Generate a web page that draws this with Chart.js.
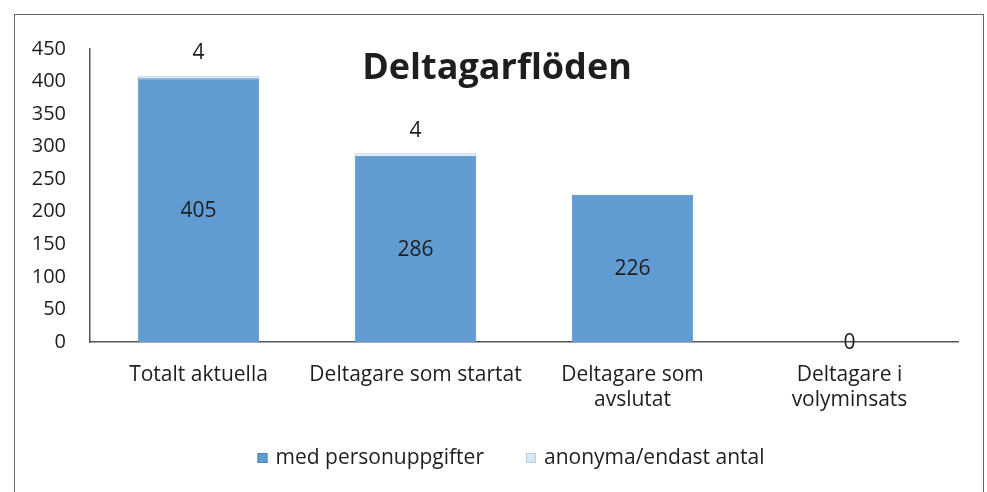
<!DOCTYPE html>
<html>
<head>
<meta charset="utf-8">
<script src="https://cdn.jsdelivr.net/npm/chart.js@4/dist/chart.umd.min.js"></script>
<style>
  html, body { margin: 0; padding: 0; background: #fff; }
  #wrap { position: relative; width: 987px; height: 492px; }
  #frame { position: absolute; left: 14px; top: 14px; width: 970px; height: 490px;
           border: 1px solid #666; box-sizing: border-box; pointer-events: none; }
  canvas { position: absolute; left: 0; top: 0; }
</style>
</head>
<body>
<div id="wrap">
  <canvas id="chart" width="987" height="492"></canvas>
  <div id="frame"></div>
</div>
<script>
// data
var categories = ['Totalt aktuella', 'Deltagare som startat', ['Deltagare som', 'avslutat'], ['Deltagare i', 'volyminsats']];
var medPersonuppgifter = [405, 286, 226, 0];
var anonymaEndastAntal = [4, 4, 0, 0];
var yTicks = [0, 50, 100, 150, 200, 250, 300, 350, 400, 450];
var chartTitle = 'Deltagarflöden';

var FONT = '"Open Sans", Lato, sans-serif';
var TEXT = '#1e1e1e';

// title sits inside the plot area, like the Excel original
var titlePlugin = {
    id: 'insideTitle',
    afterDraw (chart) {
        var ctx = chart.ctx;
        ctx.save();
        ctx.font = 'bold 36px ' + FONT;
        ctx.fillStyle = TEXT;
        ctx.textAlign = 'center';
        ctx.textBaseline = 'middle';
        ctx.fillText(chartTitle, 497, 69);
        ctx.restore();
    }
};

// value labels: first series in the middle of the bar, second above the stack
var labelPlugin = {
    id: 'barLabels',
    afterDatasetsDraw (chart) {
        var ctx = chart.ctx;
        ctx.save();
        ctx.font = '21px ' + FONT;
        ctx.fillStyle = TEXT;
        ctx.textAlign = 'center';
        var med = chart.getDatasetMeta(0);
        var ano = chart.getDatasetMeta(1);
        med.data.forEach(function (bar, i) {
            ctx.textBaseline = 'middle';
            ctx.fillText(String(medPersonuppgifter[i]), bar.x, (bar.y + bar.base) / 2 + 1);
            if (anonymaEndastAntal[i] > 0) {
                var top = ano.data[i].y;
                ctx.textBaseline = 'bottom';
                ctx.fillText(String(anonymaEndastAntal[i]), bar.x, top - 12);
            }
        });
        ctx.restore();
    }
};

// legend drawn by hand so the items can sit wide apart like in Excel
var legendPlugin = {
    id: 'wideLegend',
    afterDraw (chart) {
        var ctx = chart.ctx;
        var sets = chart.data.datasets;
        var box = 10, gap = 8, spacing = 42, cy = 458;
        ctx.save();
        ctx.font = '21px ' + FONT;
        var widths = sets.map(function (ds) { return box + gap + ctx.measureText(ds.label).width; });
        var total = widths.reduce(function (a, b) { return a + b; }, 0) + spacing * (sets.length - 1);
        var x = 511 - total / 2;
        sets.forEach(function (ds, i) {
            ctx.fillStyle = ds.backgroundColor;
            ctx.fillRect(x, cy - box / 2, box, box);
            ctx.strokeStyle = ds.borderColor;
            ctx.lineWidth = 1;
            ctx.strokeRect(x + 0.5, cy - box / 2 + 0.5, box - 1, box - 1);
            ctx.fillStyle = TEXT;
            ctx.textAlign = 'left';
            ctx.textBaseline = 'middle';
            ctx.fillText(ds.label, x + box + gap, cy);
            x += widths[i] + spacing;
        });
        ctx.restore();
    }
};

new Chart(document.getElementById('chart'), {
    type: 'bar',
    data: {
        labels: categories,
        datasets: [
            {
                label: 'med personuppgifter',
                data: medPersonuppgifter,
                backgroundColor: '#609cd1',
                borderColor: '#4d87c0',
                borderWidth: 1,
                barPercentage: 0.56,
                categoryPercentage: 1
            },
            {
                label: 'anonyma/endast antal',
                data: anonymaEndastAntal,
                backgroundColor: '#d9e8f5',
                borderColor: '#b9cfe4',
                borderWidth: 1,
                barPercentage: 0.56,
                categoryPercentage: 1
            }
        ]
    },
    options: {
        responsive: false,
        animation: false,
        layout: { padding: { top: 49, right: 29, bottom: 0, left: 0 } },
        plugins: {
            title: { display: false },
            tooltip: { enabled: false },
            legend: { display: false }
        },
        scales: {
            x: {
                stacked: true,
                grid: { display: false, drawTicks: false },
                border: { display: true, color: '#555', width: 1.5 },
                ticks: { font: { family: FONT, size: 21 }, color: TEXT, padding: 20, maxRotation: 0, autoSkip: false },
                afterFit (scale) { scale.height = 150; }
            },
            y: {
                stacked: true,
                min: 0,
                max: 450,
                afterBuildTicks (scale) { scale.ticks = yTicks.map(function (v) { return { value: v }; }); },
                grid: { display: false, drawTicks: false },
                border: { display: true, color: '#555', width: 1.5 },
                ticks: { font: { family: FONT, size: 20 }, color: TEXT, padding: 24 },
                afterFit (scale) { scale.width = 90; }
            }
        }
    },
    plugins: [titlePlugin, labelPlugin, legendPlugin]
});
</script>
</body>
</html>
